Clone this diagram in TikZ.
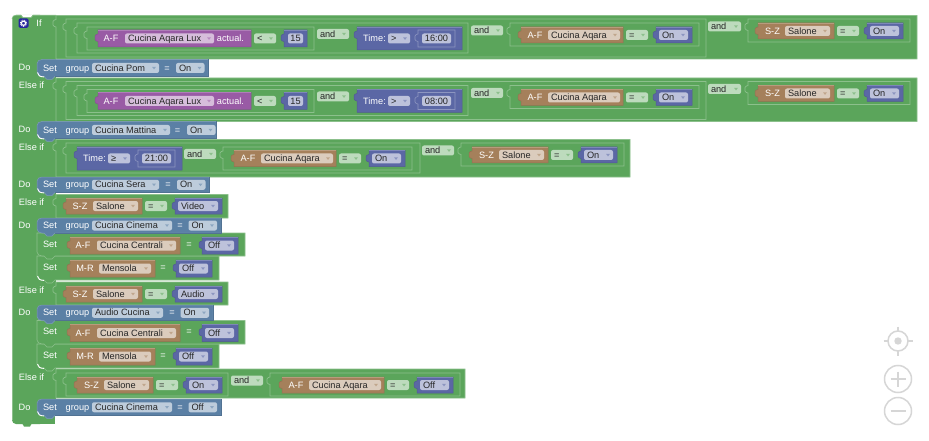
\documentclass[tikz,border=0pt]{standalone}
\usepackage{fontspec}
\setmainfont{Liberation Sans}
\definecolor{gg}{HTML}{5BA55B}\definecolor{ggL}{HTML}{8CC08C}\definecolor{ggD}{HTML}{498449}\definecolor{ggF}{HTML}{BDDBBD}
\definecolor{bb}{HTML}{5B80A5}\definecolor{bbL}{HTML}{8CA6C0}\definecolor{bbD}{HTML}{496684}\definecolor{bbF}{HTML}{BDCCDB}
\definecolor{rr}{HTML}{A5805B}\definecolor{rrL}{HTML}{C0A68C}\definecolor{rrD}{HTML}{846649}\definecolor{rrF}{HTML}{DBCCBD}
\definecolor{pp}{HTML}{995BA5}\definecolor{ppL}{HTML}{B88CC0}\definecolor{ppD}{HTML}{7A4984}\definecolor{ppF}{HTML}{D6BDDB}
\definecolor{ii}{HTML}{5B67A5}\definecolor{iiL}{HTML}{8C95C0}\definecolor{iiD}{HTML}{495284}\definecolor{iiF}{HTML}{BDC2DB}
\definecolor{ctl}{HTML}{D6D6D6}
\newcount\nid
\tikzset{
 every node/.style={font=\fontsize{9.2pt}{11pt}\selectfont,inner sep=0pt,outer sep=0pt},
 wlabel/.style={text=white,anchor=base},
 wlabelw/.style={text=white,anchor=base west},
 dlabel/.style={text=black!85,anchor=base west},
 clabel/.style={text=black!85,anchor=base},
 ctlline/.style={draw=ctl,line width=1.5pt,fill=none},
}
% value block outline path with tab on the left
\newcommand\vpath[4]{({#1},{#2}) -- ({#3},{#2}) -- ({#3},{#4}) -- ({#1},{#4}) -- ({#1},{#2+11.5})
 .. controls ({#1-1},{#2+10.5}) and ({#1-3},{#2+11.5}) .. ({#1-3},{#2+9.5}) -- ({#1-3},{#2+6})
 .. controls ({#1-3},{#2+4}) and ({#1-1},{#2+5}) .. ({#1},{#2+4}) -- cycle}
% coloured value block: x1 y1 x2 y2 prefix
\newcommand\vb[5]{\fill[fill=#5,draw=#5D!55!#5,line width=.5pt] \vpath{#1}{#2}{#3}{#4};
 \draw[draw=#5L!70!#5,line width=.5pt] ({#1},{#2}) -- ({#3},{#2});}
% green outline block
\newcommand\ob[4]{\fill[fill=gg,draw=ggL,line width=.7pt] \vpath{#1}{#2}{#3}{#4};}
% dropdown field: x1 x2 ymid prefix text
\newcommand\fld[5]{\fill[fill=#4F,rounded corners=2pt] ({#1},{#3-5}) rectangle ({#2},{#3+5});
 \fill[fill=#4!70!white] ({#2-7},{#3-1.2}) -- ({#2-3},{#3-1.2}) -- ({#2-5},{#3+1.4}) -- cycle;
 \global\advance\nid by 1
 \node[dlabel] (n\the\nid) at ({#1+3},{#3+3.2}) {#5};}
% plain text field: x1 x2 ymid prefix text
\newcommand\tf[5]{\fill[fill=#4F,rounded corners=2pt] ({#1},{#3-5}) rectangle ({#2},{#3+5});
 \global\advance\nid by 1
 \node[clabel] (n\the\nid) at ({(#1+#2)/2},{#3+3.2}) {#5};}
% white label centred: xc ymid text
\newcommand\lb[3]{\global\advance\nid by 1
 \node[wlabel] (n\the\nid) at ({#1},{#2+3.2}) {#3};}
% white label from the left: x ymid text
\newcommand\lbw[3]{\global\advance\nid by 1
 \node[wlabelw] (n\the\nid) at ({#1},{#2+3.2}) {#3};}
% comparators with ymid
\newcommand\SZ[3]{\vb{#1}{(#2-8)}{(#1+76)}{(#2+8)}{rr}
 \lb{(#1+14.5)}{#2}{S-Z}
 \fld{(#1+27)}{(#1+72)}{#2}{rr}{Salone}
 \fld{(#1+79)}{(#1+101)}{#2}{gg}{=}
 \vb{(#1+109)}{(#2-8)}{(#1+145)}{(#2+8)}{ii}
 \fld{(#1+112)}{(#1+141)}{#2}{ii}{#3}}
\newcommand\AF[3]{\vb{#1}{(#2-8)}{(#1+102)}{(#2+8)}{rr}
 \lb{(#1+14)}{#2}{A-F}
 \fld{(#1+27)}{(#1+99)}{#2}{rr}{Cucina Aqara}
 \fld{(#1+105)}{(#1+127)}{#2}{gg}{=}
 \vb{(#1+135)}{(#2-8)}{(#1+171)}{(#2+8)}{ii}
 \fld{(#1+138)}{(#1+167)}{#2}{ii}{#3}}
% Time block: x1 ymid op time
\newcommand\TM[4]{\vb{#1}{(#2-11.5)}{(#1+105)}{(#2+11.5)}{ii}
 \lb{(#1+17.5)}{#2}{Time:}
 \fld{(#1+31)}{(#1+53)}{#2}{ii}{#3}
 \fill[fill=ii,draw=iiL,line width=.6pt] \vpath{(#1+61)}{(#2-8.5)}{(#1+98)}{(#2+8.5)};
 \tf{(#1+65)}{(#1+94)}{#2}{ii}{#4}}
% statement blocks
\newcommand\stm[4]{\fill[fill=#4,draw=#4L!70!#4,line width=.5pt] (37,{#2+4}) .. controls (37,{#2+1.5}) and (39.5,{#2}) .. (42,{#2})
 -- ({#1},{#2}) -- ({#1},{#3}) -- (55,{#3}) -- (52,{#3+3}) -- (47,{#3+3}) -- (44,{#3}) -- (42,{#3})
 .. controls (39.5,{#3}) and (37,{#3-1.5}) .. (37,{#3-4}) -- cycle;
 \draw[draw=#4D!55!#4,line width=.5pt] ({#1},{#2}) -- ({#1},{#3}) -- (55,{#3});}
\newcommand\stg[3]{\fill[fill=gg,draw=ggL,line width=.6pt] (37,{#2}) -- ({#1},{#2}) -- ({#1},{#3}) -- (55,{#3}) -- (52,{#3+3}) -- (47,{#3+3}) -- (44,{#3}) -- (42,{#3})
 .. controls (39.5,{#3}) and (37,{#3-1.5}) .. (37,{#3-4}) -- cycle;}
\newcommand\corner[1]{\draw[draw=white,line width=.9pt] (37.5,{#1-4}) .. controls (37.8,{#1-1}) and (40,{#1+.4}) .. (44,{#1+.4});}
% Do block with group
\newcommand\grp[8]{\stm{#1}{#2}{#3}{bb}
 \lb{50}{((#2+#3)/2)}{Set}
 \lb{77.5}{((#2+#3)/2)}{group}
 \fld{92}{#4}{((#2+#3)/2)}{bb}{#5}
 \lb{#6}{((#2+#3)/2)}{=}
 \fld{#7}{(#7+28.5)}{((#2+#3)/2)}{bb}{#8}}
% pair of Set rows below a Do block
\newcommand\setrows[2]{
 \stg{219}{#2}{(#2+24)}
 \lb{50}{(#2+11)}{Set}
 \vb{70}{(#2+4)}{155}{(#2+21)}{rr}
 \lb{85}{(#2+12.5)}{M-R}
 \fld{99}{151}{(#2+12.5)}{rr}{Mensola}
 \lb{163}{(#2+11)}{=}
 \vb{176}{(#2+4)}{212}{(#2+21)}{ii}
 \fld{179}{208}{(#2+12.5)}{ii}{Off}
 \stg{245}{#1}{#2}
 \lb{50}{(#1+11)}{Set}
 \vb{70}{(#1+4)}{180}{(#1+21)}{rr}
 \lb{83}{(#1+12.5)}{A-F}
 \fld{97}{176}{(#1+12.5)}{rr}{Cucina Centrali}
 \lb{189}{(#1+11)}{=}
 \vb{202}{(#1+4)}{238}{(#1+21)}{ii}
 \fld{205}{234}{(#1+12.5)}{ii}{Off}
 \corner{(#2+24)}}
% the two long rows: time
\newcommand\longrow[1]{
 \ob{56}{15.5}{917}{59}
 \ob{66}{19}{706}{57}
 \ob{77}{23}{468}{53}
 \ob{87}{27}{314}{50}
 \vb{98}{30}{251}{47}{pp}
 \lb{111}{38.5}{A-F}
 \fld{125}{214}{38.5}{pp}{Cucina Aqara Lux}
 \lb{230.5}{38.5}{actual.}
 \fld{254}{276}{38.5}{gg}{<}
 \vb{284}{30}{307}{47}{ii}
 \tf{288}{303}{38.5}{ii}{15}
 \fld{317}{349}{34}{gg}{and}
 \TM{357}{38.5}{>}{#1}
 \fld{471}{503}{30.5}{gg}{and}
 \ob{510}{23}{699}{46}
 \AF{521}{35}{On}
 \fld{708}{741}{26.5}{gg}{and}
 \ob{748}{19}{910}{42}
 \SZ{758}{31}{On}}
\begin{document}
\begin{tikzpicture}[x=1pt,y=-1pt]
\useasboundingbox (0,0) rectangle (929,441);
\fill[white] (0,0) rectangle (929,441);
% main block
\fill[fill=gg,rounded corners=4pt] (12,15) rectangle (44,424);
\fill[fill=gg] (30,416) rectangle (55,424);
\fill[fill=gg] (22,423) -- (32,423) -- (30,426.5) -- (24,426.5) -- cycle;
\fill[fill=gg] (30,15) rectangle (56,60);
\fill[fill=gg] (30,77) rectangle (56,122);
\fill[fill=gg] (30,139) rectangle (56,178);
\fill[fill=gg] (30,192) rectangle (56,219);
\fill[fill=gg] (30,280) rectangle (56,306);
\fill[fill=gg] (30,367) rectangle (56,399);
\fill[fill=white] (21,14.5) -- (33,14.5) -- (31,17.5) -- (23,17.5) -- cycle;
\draw[draw=ggL,line width=.6pt] (12,19) .. controls (12,16) and (14,15.3) .. (16,15.3) -- (21,15.3) -- (23,17.5) -- (31,17.5) -- (33,15.3) -- (56,15.3);
\draw[draw=ggL,line width=.6pt] (12,19) -- (12,420);
% settings icon
\fill[fill=blue!55!black!85!white,rounded corners=1.5pt] (18.5,18.5) rectangle (28.5,28);
\draw[draw=white,line width=1.1pt] (23.5,23.2) circle (2.1pt);
\draw[draw=white,line width=.7pt,dash pattern=on .9pt off .9pt] (23.5,23.2) circle (3.3pt);
\lb{39}{23}{If}
% row 1
\longrow{16:00}
\lbw{19}{85}{Else if}
\begin{scope}[yshift=-62.5pt]
\longrow{08:00}
\end{scope}
% row 3
\ob{56}{139.5}{630}{177}
\ob{66}{143}{420}{173}
\TM{77}{158.5}{≥}{21:00}
\fld{184}{216}{154}{gg}{and}
\ob{223}{147}{412}{170}
\AF{234}{158.5}{On}
\fld{422}{454}{150.5}{gg}{and}
\ob{461}{143}{624}{166}
\SZ{472}{155}{On}
\lbw{19}{147}{Else if}
% row 4
\ob{56}{194.5}{228}{218}
\vb{66}{198}{142}{214}{rr}
\lb{80}{206}{S-Z}
\fld{93}{138}{206}{rr}{Salone}
\fld{145}{167}{206}{gg}{=}
\vb{175}{198}{222}{214}{ii}
\fld{178}{218}{206}{ii}{Video}
\lbw{19}{202}{Else if}
% row 5
\ob{56}{282}{228}{305}
\vb{66}{286}{142}{302}{rr}
\lb{80}{294}{S-Z}
\fld{93}{138}{294}{rr}{Salone}
\fld{145}{167}{294}{gg}{=}
\vb{175}{286}{222}{302}{ii}
\fld{178}{218}{294}{ii}{Audio}
\lbw{19}{290}{Else if}
% row 6
\ob{56}{369}{465}{398}
\ob{66}{373}{228}{396}
\SZ{77}{385}{On}
\fld{231}{263}{380.5}{gg}{and}
\ob{270}{373}{460}{396}
\AF{282}{385}{Off}
\lbw{19}{377}{Else if}
% Do blocks
\lb{24.5}{67}{Do}
\grp{208}{59.5}{76.5}{159}{Cucina Pom}{167}{176}{On}
\corner{76.5}
\lb{24.5}{129}{Do}
\grp{216}{121.5}{138.5}{170}{Cucina Mattina}{177.5}{187}{On}
\corner{138.5}
\lb{24.5}{184}{Do}
\grp{209}{177}{192.5}{159}{Cucina Sera}{168}{177}{On}
\corner{192.5}
\lb{24.5}{225}{Do}
\setrows{233}{256}
\grp{221}{218}{233}{172}{Cucina Cinema}{180}{188.5}{On}
\lb{24.5}{312}{Do}
\setrows{320.5}{344}
\grp{213}{305}{320.5}{163}{Audio Cucina}{172}{180.5}{On}
\lb{24.5}{407}{Do}
\grp{221}{399}{415.5}{172}{Cucina Cinema}{180}{188.5}{Off}
\corner{415.5}
% workspace controls
\draw[ctlline] (898,341) circle (10pt);
\fill[fill=ctl] (898,341) circle (3.7pt);
\draw[ctlline] (898,326.5) -- (898,331) (898,351) -- (898,355.5) (883.5,341) -- (888,341) (908,341) -- (912.5,341);
\draw[ctlline] (898,379) circle (13.5pt);
\draw[ctlline] (890.5,379) -- (905.5,379) (898,371.5) -- (898,386.5);
\draw[ctlline] (898,411) circle (13.5pt);
\draw[ctlline] (890.5,411) -- (905.5,411);
\end{tikzpicture}
\end{document}
